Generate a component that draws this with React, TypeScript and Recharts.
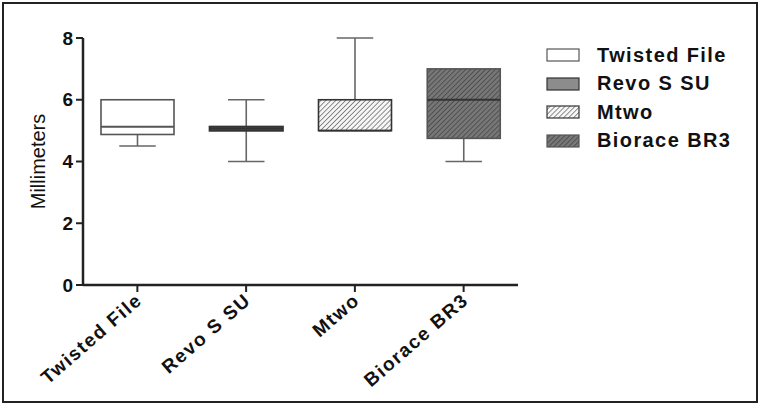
import { Bar, ComposedChart, Label, XAxis, YAxis } from "recharts";

const categories = ["Twisted File", "Revo S SU", "Mtwo", "Biorace BR3"];
const minVals = [4.5, 4, 5, 4];
const q1Vals = [4.875, 5, 5, 4.75];
const medianVals = [5.125, 5.06, 5, 6];
const q3Vals = [6, 5.125, 6, 7];
const maxVals = [6, 6, 8, 7];
const yTicks = [0, 2, 4, 6, 8];

const boxFills = ["#ffffff", "#8c8c8c", "url(#hatchLight)", "url(#hatchDark)"];
const swatchFills = ["#ffffff", "#8c8c8c", "url(#hatchLightL)", "url(#hatchDarkL)"];
const boxStrokes = ["#555", "#333", "#333", "#555"];
const medianStrokes = ["#555", "#333", "#333", "#333"];

const data = categories.map((name, i) => ({
  name,
  min: minVals[i],
  q1: q1Vals[i],
  median: medianVals[i],
  q3: q3Vals[i],
  max: maxVals[i],
}));

const FONT = "'Liberation Sans', Arial, Helvetica, sans-serif";

function BoxShape(props: any) {
  const { x, y, width, height, payload, index } = props;
  if (!payload) return <g />;
  const top = Math.min(y, y + height);
  const h = Math.abs(height);
  const span = payload.max - payload.min;
  const py = (v: number) => top + ((payload.max - v) / span) * h;
  const cx = x + width / 2;
  const cap = width / 4;
  const whisker = "#666";
  return (
    <g>
      {payload.max > payload.q3 && (
        <>
          <line x1={cx} x2={cx} y1={py(payload.max)} y2={py(payload.q3)} stroke={whisker} strokeWidth={1.6} />
          <line x1={cx - cap} x2={cx + cap} y1={py(payload.max)} y2={py(payload.max)} stroke={whisker} strokeWidth={1.6} />
        </>
      )}
      {payload.min < payload.q1 && (
        <>
          <line x1={cx} x2={cx} y1={py(payload.q1)} y2={py(payload.min)} stroke={whisker} strokeWidth={1.6} />
          <line x1={cx - cap} x2={cx + cap} y1={py(payload.min)} y2={py(payload.min)} stroke={whisker} strokeWidth={1.6} />
        </>
      )}
      <rect
        x={x}
        y={py(payload.q3)}
        width={width}
        height={Math.max(py(payload.q1) - py(payload.q3), 1)}
        fill={boxFills[index]}
        stroke={boxStrokes[index]}
        strokeWidth={index === 1 ? 2.2 : 1.6}
      />
      <line x1={x} x2={x + width} y1={py(payload.median)} y2={py(payload.median)} stroke={medianStrokes[index]} strokeWidth={1.8} />
    </g>
  );
}

function XTick(props: any) {
  const { x, y, payload } = props;
  const tx = x + 6;
  const ty = y + 8;
  return (
    <text
      x={tx}
      y={ty}
      transform={`rotate(-41 ${tx} ${ty})`}
      textAnchor="end"
      fontFamily={FONT}
      fontWeight={700}
      fontSize={19}
      letterSpacing={1.6}
      fill="#111"
    >
      {payload.value}
    </text>
  );
}

function YLabel(props: any) {
  const vb = props.viewBox || {};
  const cx = vb.x + 15;
  const cy = vb.y + vb.height / 2;
  return (
    <text
      x={cx}
      y={cy}
      transform={`rotate(-90 ${cx} ${cy})`}
      textAnchor="middle"
      dominantBaseline="central"
      fontFamily={FONT}
      fontSize={20}
      fill="#111"
    >
      Millimeters
    </text>
  );
}

function PatternDefs({ suffix }: { suffix: string }) {
  return (
    <defs>
      <pattern id={`hatchLight${suffix}`} patternUnits="userSpaceOnUse" width={3.5} height={3.5} patternTransform="rotate(45)">
        <rect width={3.5} height={3.5} fill="#f6f6f6" />
        <line x1={0} y1={0} x2={0} y2={3.5} stroke="#6a6a6a" strokeWidth={1.5} />
      </pattern>
      <pattern id={`hatchDark${suffix}`} patternUnits="userSpaceOnUse" width={3.5} height={3.5} patternTransform="rotate(45)">
        <rect width={3.5} height={3.5} fill="#777" />
        <line x1={0} y1={0} x2={0} y2={3.5} stroke="#444" strokeWidth={1.5} />
      </pattern>
    </defs>
  );
}

function LegendBox() {
  return (
    <div style={{ position: "absolute", left: 546, top: 41, fontFamily: FONT }}>
      {categories.map((c, i) => (
        <div key={c} style={{ display: "flex", alignItems: "center", height: 28.5 }}>
          <svg width={34} height={14} style={{ marginRight: 17 }}>
            <PatternDefs suffix="L" />
            <rect x={1} y={1} width={32} height={12} fill={swatchFills[i]} stroke={boxStrokes[i]} strokeWidth={1.2} />
          </svg>
          <span style={{ fontSize: 20, fontWeight: 700, letterSpacing: 1.4, color: "#111" }}>{c}</span>
        </div>
      ))}
    </div>
  );
}

export default function App() {
  return (
    <div style={{ position: "absolute", left: 0, top: 0, width: 761, height: 406, background: "#fff" }}>
      <div
        style={{
          position: "absolute",
          left: 2,
          top: 2,
          width: 756,
          height: 401,
          border: "2px solid #222",
          boxSizing: "border-box",
        }}
      />
      <ComposedChart
        width={761}
        height={406}
        data={data}
        margin={{ top: 38, right: 243, bottom: 21, left: 23 }}
        style={{ position: "absolute", left: 0, top: 0 }}
      >
        <PatternDefs suffix="" />
        <XAxis
          dataKey="name"
          interval={0}
          height={100}
          tickSize={7}
          tickLine={{ stroke: "#222", strokeWidth: 2 }}
          axisLine={{ stroke: "#222", strokeWidth: 2.5 }}
          tick={<XTick />}
        />
        <YAxis
          domain={[0, 8]}
          ticks={yTicks}
          width={60}
          tickSize={7}
          tickMargin={3}
          tickLine={{ stroke: "#222", strokeWidth: 2 }}
          axisLine={{ stroke: "#222", strokeWidth: 2.5 }}
          tick={{ fill: "#111", fontFamily: FONT, fontWeight: 700, fontSize: 19 }}
        >
          <Label content={<YLabel />} />
        </YAxis>
        <Bar
          dataKey={(d: any) => [d.min, d.max]}
          barSize={73}
          shape={<BoxShape />}
          isAnimationActive={false}
        />
      </ComposedChart>
      <LegendBox />
    </div>
  );
}
